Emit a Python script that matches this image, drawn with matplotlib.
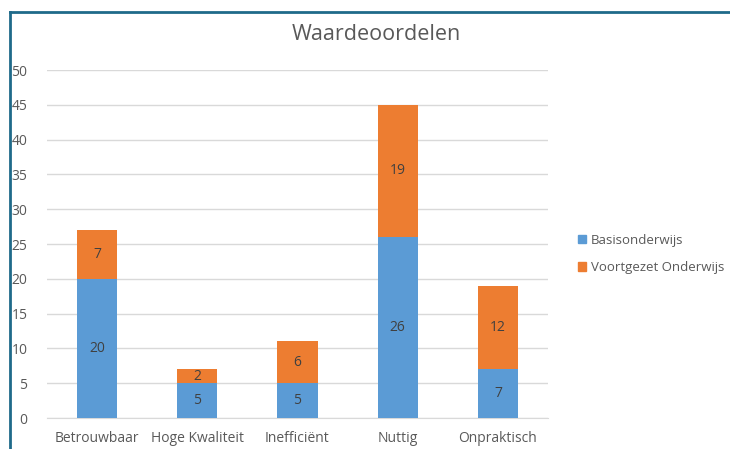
import matplotlib
matplotlib.use("Agg")
import matplotlib.pyplot as plt
from matplotlib.patches import Rectangle
from matplotlib.lines import Line2D

categories = ["Betrouwbaar", "Hoge Kwaliteit", "Inefficiënt", "Nuttig", "Onpraktisch"]
basis = [20, 5, 5, 26, 7]
voortgezet = [7, 2, 6, 19, 12]
series_names = ["Basisonderwijs", "Voortgezet Onderwijs"]
yticks = [0, 5, 10, 15, 20, 25, 30, 35, 40, 45, 50]

plt.rcParams['font.family'] = ['Open Sans', 'DejaVu Sans']
W, H = 730, 449
fig = plt.figure(figsize=(W/100, H/100), dpi=100)
fig.patch.set_facecolor("white")

ax = fig.add_axes([47/W, (H-418)/H, (548-47)/W, (418-70)/H])
blue = "#5B9BD5"
orange = "#ED7D31"
txt = "#595959"
x = list(range(len(categories)))
ax.bar(x, basis, width=0.4, color=blue, zorder=3)
ax.bar(x, voortgezet, width=0.4, bottom=basis, color=orange, zorder=3)
for i in x:
    ax.text(i, basis[i]/2, str(basis[i]), ha="center", va="center", fontsize=10, color="#404040", zorder=4)
    ax.text(i, basis[i] + voortgezet[i]/2, str(voortgezet[i]), ha="center", va="center", fontsize=10, color="#404040", zorder=4)

ax.set_xlim(-0.5, len(categories)-0.5)
ax.set_ylim(0, 50)
ax.set_yticks(yticks)
ax.set_xticks(x)
ax.set_xticklabels(categories)
ax.grid(axis="y", color="#D9D9D9", linewidth=1, zorder=0)
for s in ["top", "right", "left"]:
    ax.spines[s].set_visible(False)
ax.spines["bottom"].set_color("#D9D9D9")
ax.tick_params(axis="both", length=0, colors=txt, labelsize=10)
ax.tick_params(axis="y", pad=14)
ax.tick_params(axis="x", pad=9)

fig.text(376/W, 1-35/H, "Waardeoordelen", ha="center", va="center", fontsize=15.5, color=txt)

handles = [Rectangle((0, 0), 1, 1, color=blue), Rectangle((0, 0), 1, 1, color=orange)]
fig.legend(handles, series_names, loc="center left", bbox_to_anchor=(566/W, 1-254/H),
           frameon=False, fontsize=9.5, handlelength=0.6, handleheight=0.6,
           handletextpad=0.4, labelspacing=1.1, labelcolor=txt)

# frame border (top and left)
fig.add_artist(Line2D([10/W, 10/W], [0, 1-12/H], transform=fig.transFigure, color="#1F6A8A", linewidth=2))
fig.add_artist(Line2D([10/W, 1], [1-12/H, 1-12/H], transform=fig.transFigure, color="#1F6A8A", linewidth=2))

fig.savefig("out.png", dpi=100)
